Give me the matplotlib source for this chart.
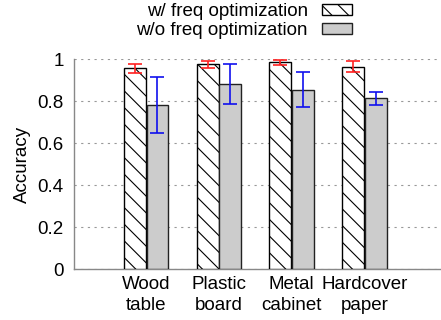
import matplotlib
matplotlib.use("Agg")
import matplotlib.pyplot as plt
import numpy as np

plt.rcParams['font.family'] = ['Liberation Sans', 'DejaVu Sans']
plt.rcParams['hatch.linewidth'] = 0.8

categories = ["Wood\ntable", "Plastic\nboard", "Metal\ncabinet", "Hardcover\npaper"]
with_opt = [0.955, 0.975, 0.984, 0.964]
with_err = [0.023, 0.017, 0.013, 0.025]
without_opt = [0.783, 0.883, 0.853, 0.812]
without_err = [0.133, 0.095, 0.083, 0.033]
labels = ["w/ freq optimization", "w/o freq optimization"]
yticks = [0, 0.2, 0.4, 0.6, 0.8, 1]

FS = 13.5

fig = plt.figure(figsize=(4.41, 3.2), dpi=100)
ax = fig.add_axes([73.5/441, 1 - 269/320, (440 - 73.5)/441, 210/320])

x = np.arange(len(categories))
w = 0.30
off = 0.155
b1 = ax.bar(x - off, with_opt, w, facecolor='white', edgecolor='black', hatch='\\\\',
            linewidth=1.0, label=labels[0], zorder=3)
b2 = ax.bar(x + off, without_opt, w, facecolor='#cccccc', edgecolor='#222222',
            linewidth=1.0, label=labels[1], zorder=3)
ax.errorbar(x - off, with_opt, yerr=with_err, fmt='none', ecolor='#ff2020',
            elinewidth=1.2, capsize=5, capthick=1.2, zorder=4)
ax.errorbar(x + off, without_opt, yerr=without_err, fmt='none', ecolor='#1010ee',
            elinewidth=1.2, capsize=5, capthick=1.2, zorder=4)

ax.set_xlim(-1.0, 4.04)
ax.set_ylim(0, 1)
ax.set_yticks(yticks)
ax.set_yticklabels([f"{t:g}" for t in yticks], fontsize=FS)
ax.set_xticks(x)
ax.set_xticklabels(categories, fontsize=FS, linespacing=1.3)
ax.tick_params(axis='both', length=0)
ax.tick_params(axis='y', pad=7)
ax.tick_params(axis='x', pad=5)
ax.set_ylabel("Accuracy", fontsize=FS, labelpad=5)

ax.grid(axis='y', linestyle=(0, (2, 4)), color='#999999', linewidth=0.8, zorder=0)
for s in ['top', 'right']:
    ax.spines[s].set_visible(False)
for s in ['left', 'bottom']:
    ax.spines[s].set_color('#888888')
    ax.spines[s].set_linewidth(1.0)

leg = fig.legend(handles=[b1, b2], labels=labels, loc='upper right',
                 bbox_to_anchor=(352/441, 1 - 3/320), frameon=False, fontsize=FS,
                 markerfirst=False, handlelength=1.6, handleheight=0.55,
                 labelspacing=0.12, handletextpad=0.75, borderaxespad=0, borderpad=0.0)

fig.savefig("out.png", dpi=100)
